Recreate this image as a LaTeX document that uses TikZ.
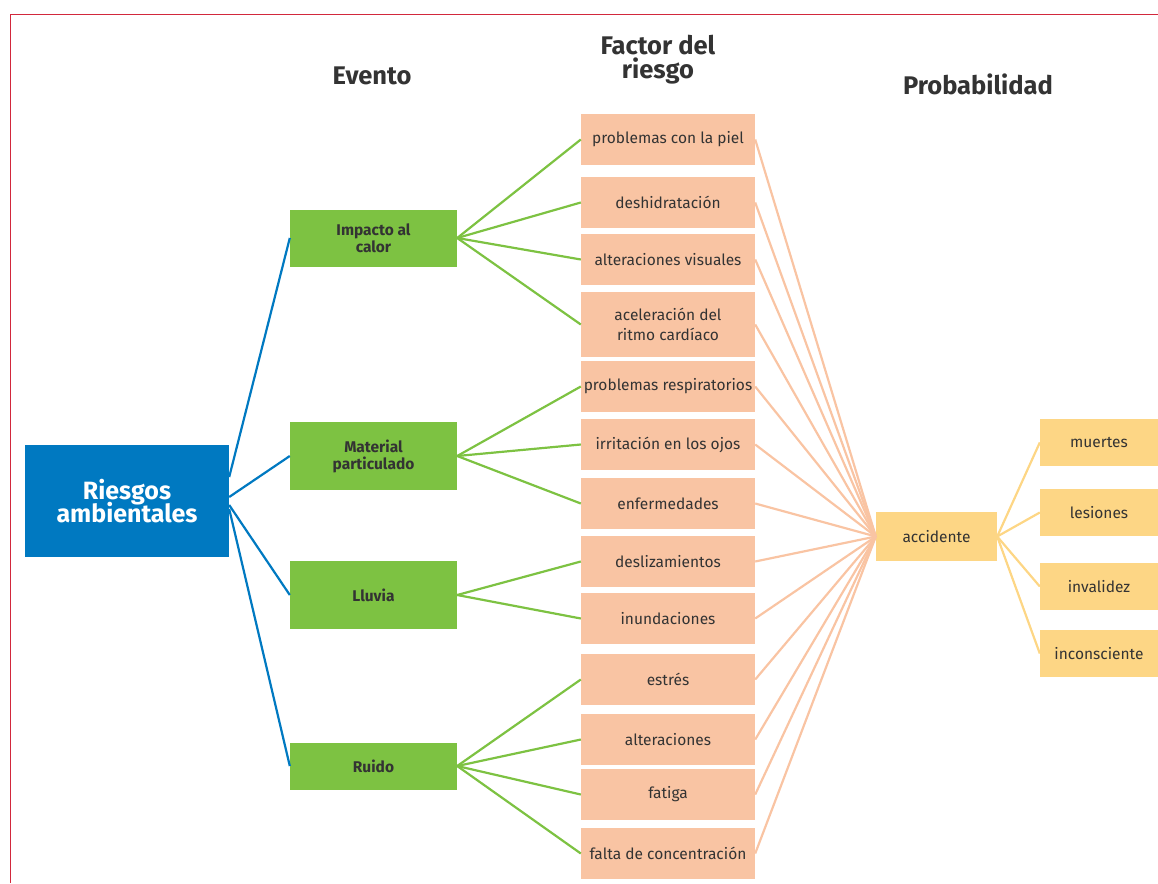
\documentclass[tikz,border=0pt]{standalone}
\usepackage{fontspec}
\setmainfont{Fira Sans}
\lineskiplimit=-20pt

\definecolor{riesgoazul}{HTML}{0079C1}
\definecolor{eventoverde}{HTML}{7DC242}
\definecolor{factorsalmon}{HTML}{F9C4A3}
\definecolor{probamarillo}{HTML}{FDD685}
\definecolor{marcorojo}{HTML}{D2283C}
\definecolor{textogris}{HTML}{333333}

\begin{document}
\begin{tikzpicture}[x=1pt, y=-1pt,
    raiz/.style={rectangle, fill=riesgoazul, text=white, align=center, inner sep=0pt,
        font=\bfseries\fontsize{25}{23}\selectfont, minimum width=204pt, minimum height=112pt},
    evento/.style={rectangle, fill=eventoverde, text=textogris, align=center, inner sep=0pt,
        font=\bfseries\fontsize{15.5}{17}\selectfont, minimum width=167pt},
    factor/.style={rectangle, fill=factorsalmon, text=textogris, align=center, inner sep=0pt,
        font=\fontsize{15.5}{20}\selectfont, minimum width=174pt, minimum height=51pt},
    proba/.style={rectangle, fill=probamarillo, text=textogris, align=center, inner sep=0pt,
        font=\fontsize{15.5}{20}\selectfont, minimum height=47pt},
    titulo/.style={text=textogris, align=center, font=\bfseries\fontsize{25.5}{24}\selectfont},
    azul/.style={draw=riesgoazul, line width=2.2pt},
    verde/.style={draw=eventoverde, line width=2.2pt},
    salmon/.style={draw=factorsalmon, line width=2.2pt},
    amarillo/.style={draw=probamarillo, line width=2.2pt}]
    \useasboundingbox (0,0) rectangle (1158,883);
    % marco
    \draw[marcorojo, line width=1.2pt] (10.5,883) -- (10.5,14.5) -- (1158,14.5);

    % titulos
    \node[titulo] (tevento) at (372,76) {Evento};
    \node[titulo] (tfactor) at (658,60) {Factor del\\riesgo};
    \node[titulo] (tproba) at (978,84) {Probabilidad};

    % raiz
    \node[raiz] (riesgos) at (127,501) {Riesgos\\ambientales};

    % eventos
    \node[evento, minimum height=57pt] (calor) at (373.5,238) {Impacto al\\calor};
    \node[evento, minimum height=68pt] (material) at (373.5,456) {Material\\particulado};
    \node[evento, minimum height=68pt] (lluvia) at (373.5,595) {Lluvia};
    \node[evento, minimum height=47pt] (ruido) at (373.5,766) {Ruido};

    % factores
    \node[factor] (piel) at (668,139.5) {problemas con la piel};
    \node[factor] (deshidratacion) at (668,202.5) {deshidratación};
    \node[factor] (visuales) at (668,259.5) {alteraciones visuales};
    \node[factor, minimum height=65pt] (cardiaco) at (668,324.5) {aceleración del\\ritmo cardíaco};
    \node[factor] (respiratorios) at (668,386.5) {problemas respiratorios};
    \node[factor] (ojos) at (668,444.5) {irritación en los ojos};
    \node[factor] (enfermedades) at (668,503.5) {enfermedades};
    \node[factor] (deslizamientos) at (668,561.5) {deslizamientos};
    \node[factor] (inundaciones) at (668,618.5) {inundaciones};
    \node[factor] (estres) at (668,679.5) {estrés};
    \node[factor] (alteraciones) at (668,739.5) {alteraciones};
    \node[factor] (fatiga) at (668,794.5) {fatiga};
    \node[factor] (concentracion) at (668,853.5) {falta de concentración};

    % probabilidad
    \node[proba, minimum width=121pt, minimum height=49pt] (accidente) at (936.5,536.5) {accidente};
    \node[proba, minimum width=118pt] (muertes) at (1099,442.5) {muertes};
    \node[proba, minimum width=118pt] (lesiones) at (1099,512.5) {lesiones};
    \node[proba, minimum width=118pt] (invalidez) at (1099,586.5) {invalidez};
    \node[proba, minimum width=118pt] (inconsciente) at (1099,653.5) {inconsciente};

    % conexiones raiz - eventos
    \draw[azul] ([yshift=24pt]riesgos.east) -- (calor.west);
    \draw[azul] ([yshift=4pt]riesgos.east) -- (material.west);
    \draw[azul] ([yshift=-4pt]riesgos.east) -- (lluvia.west);
    \draw[azul] ([yshift=-8pt]riesgos.east) -- (ruido.west);

    % conexiones eventos - factores
    \draw[verde] (calor.east) -- (piel.west);
    \draw[verde] (calor.east) -- (deshidratacion.west);
    \draw[verde] (calor.east) -- (visuales.west);
    \draw[verde] (calor.east) -- (cardiaco.west);
    \draw[verde] (material.east) -- (respiratorios.west);
    \draw[verde] (material.east) -- (ojos.west);
    \draw[verde] (material.east) -- (enfermedades.west);
    \draw[verde] (lluvia.east) -- (deslizamientos.west);
    \draw[verde] (lluvia.east) -- (inundaciones.west);
    \draw[verde] (ruido.east) -- (estres.west);
    \draw[verde] (ruido.east) -- (alteraciones.west);
    \draw[verde] (ruido.east) -- (fatiga.west);
    \draw[verde] (ruido.east) -- (concentracion.west);

    % conexiones factores - accidente
    \draw[salmon] (piel.east) -- (accidente.west);
    \draw[salmon] (deshidratacion.east) -- (accidente.west);
    \draw[salmon] (visuales.east) -- (accidente.west);
    \draw[salmon] (cardiaco.east) -- (accidente.west);
    \draw[salmon] (respiratorios.east) -- (accidente.west);
    \draw[salmon] (ojos.east) -- (accidente.west);
    \draw[salmon] (enfermedades.east) -- (accidente.west);
    \draw[salmon] (deslizamientos.east) -- (accidente.west);
    \draw[salmon] (inundaciones.east) -- (accidente.west);
    \draw[salmon] (estres.east) -- (accidente.west);
    \draw[salmon] (alteraciones.east) -- (accidente.west);
    \draw[salmon] (fatiga.east) -- (accidente.west);
    \draw[salmon] (concentracion.east) -- (accidente.west);

    % conexiones accidente - consecuencias
    \draw[amarillo] (accidente.east) -- (muertes.west);
    \draw[amarillo] (accidente.east) -- (lesiones.west);
    \draw[amarillo] (accidente.east) -- (invalidez.west);
    \draw[amarillo] (accidente.east) -- (inconsciente.west);
\end{tikzpicture}
\end{document}
